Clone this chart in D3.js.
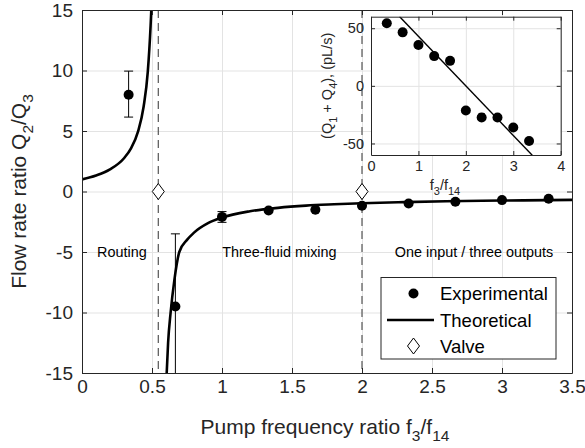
<!DOCTYPE html>
<html><head><meta charset="utf-8">
<script src="https://cdn.jsdelivr.net/npm/d3@7/dist/d3.min.js"></script>
<style>
html,body{margin:0;padding:0;background:#fff;}
svg{display:block;font-family:Arial,"Liberation Sans",Helvetica,sans-serif;}
</style></head>
<body><svg id="c" width="585" height="448"></svg>
<script>
// ---- Main chart data ----
const expX = [0.333, 0.667, 1.0, 1.333, 1.667, 2.0, 2.333, 2.667, 3.0, 3.333];
const expY = [8.0, -9.5, -2.1, -1.57, -1.51, -1.18, -0.99, -0.85, -0.71, -0.6];
const errLo = [6.15, -20, -2.55, -1.57, -1.51, -1.18, -0.99, -0.85, -0.71, -0.6];
const errHi = [9.95, -3.5, -1.66, -1.57, -1.51, -1.18, -0.99, -0.85, -0.71, -0.6];
// theoretical curve (two branches around the pole)
const theoryLeftX = [0, 0.1, 0.2, 0.3, 0.35, 0.4, 0.44, 0.47, 0.49, 0.497];
const theoryLeftY = [1.0, 1.32, 1.83, 2.75, 3.57, 4.95, 7.0, 9.9, 13.7, 15.5];
const theoryRightX = [0.603, 0.615, 0.633, 0.66, 0.695, 0.75, 0.8, 0.9, 1.0, 1.2, 1.4, 1.6, 1.8, 2.0, 2.3, 2.6, 3.0, 3.5];
const theoryRightY = [-15.5, -12.5, -10.0, -7.3, -5.0, -4.0, -3.4, -2.62, -2.15, -1.63, -1.35, -1.17, -1.06, -0.97, -0.88, -0.81, -0.75, -0.69];
const valveX = [0.545, 2.0];
const valveY = [0, 0];
const regionLabels = ["Routing", "Three-fluid mixing", "One input / three outputs"];
const regionX = [0.285, 1.41, 2.80];
const regionY = [-5.4, -5.4, -5.4];
const xTicks = [0, 0.5, 1, 1.5, 2, 2.5, 3, 3.5];
const yTicks = [-15, -10, -5, 0, 5, 10, 15];
const legendLabels = ["Experimental", "Theoretical", "Valve"];

// ---- Inset data ----
const insetX = [0.333, 0.667, 1.0, 1.333, 1.667, 2.0, 2.333, 2.667, 3.0, 3.333];
const insetY = [54.3, 46.4, 35.4, 25.8, 21.7, -21.4, -27.5, -27.5, -36.2, -47.8];
const insetErr = [0, 0, 0, 0, 0, 0, 3.5, 0, 0, 0];
const insetLineX = [0.6, 3.4];
const insetLineY = [60.2, -60.2];
const insetXTicks = [0, 1, 2, 3, 4];
const insetYTicks = [-50, 0, 50];

const svg = d3.select("#c");
const AX = "#262626", GRID = "#e3e3e3";
const fmt = d => String(d);

// text with subscripts; shift in px
function subText(sel, parts, subSize, shift) {
  let down = false;
  parts.forEach(p => {
    const t = sel.append("tspan").text(p.t);
    if (p.sub) {
      t.attr("font-size", subSize);
      if (!down) { t.attr("dy", shift); down = true; }
    } else if (down) {
      t.attr("dy", -shift); down = false;
    }
  });
}

// ---- Main axes ----
const L = 82, R = 572, T = 10, B = 373;
const x = d3.scaleLinear().domain([0, 3.5]).range([L, R]);
const y = d3.scaleLinear().domain([-15, 15]).range([B, T]);

const defs = svg.append("defs");
defs.append("clipPath").attr("id", "mainClip").append("rect")
  .attr("x", L).attr("y", T).attr("width", R - L).attr("height", B - T);

const g = svg.append("g");
// grid
g.append("g").attr("transform", `translate(0,${B})`)
  .call(d3.axisBottom(x).tickValues(xTicks).tickSize(-(B - T)).tickFormat(""))
  .call(s => { s.select(".domain").remove(); s.selectAll("line").attr("stroke", GRID); s.selectAll("text").remove(); });
g.append("g").attr("transform", `translate(${L},0)`)
  .call(d3.axisLeft(y).tickValues(yTicks).tickSize(-(R - L)).tickFormat(""))
  .call(s => { s.select(".domain").remove(); s.selectAll("line").attr("stroke", GRID); s.selectAll("text").remove(); });

const plot = g.append("g").attr("clip-path", "url(#mainClip)");
// dashed valve lines
plot.selectAll("line.valve").data(valveX).join("line")
  .attr("x1", d => x(d)).attr("x2", d => x(d)).attr("y1", T).attr("y2", B)
  .attr("stroke", "#555").attr("stroke-width", 1.2).attr("stroke-dasharray", "8,5");

// theoretical curve
const lineGen = d3.line().x(d => x(d[0])).y(d => y(d[1])).curve(d3.curveMonotoneX);
plot.append("path").datum(theoryLeftX.map((v, i) => [v, theoryLeftY[i]]))
  .attr("d", lineGen).attr("fill", "none").attr("stroke", "#000").attr("stroke-width", 2.6);
plot.append("path").datum(theoryRightX.map((v, i) => [v, theoryRightY[i]]))
  .attr("d", lineGen).attr("fill", "none").attr("stroke", "#000").attr("stroke-width", 2.6);

// error bars
const eb = plot.selectAll("g.eb").data(expX.map((v, i) => i)).join("g");
eb.append("line").attr("x1", i => x(expX[i])).attr("x2", i => x(expX[i]))
  .attr("y1", i => y(errLo[i])).attr("y2", i => y(errHi[i])).attr("stroke", "#000").attr("stroke-width", 1);
eb.append("line").attr("x1", i => x(expX[i]) - 4.5).attr("x2", i => x(expX[i]) + 4.5)
  .attr("y1", i => y(errLo[i])).attr("y2", i => y(errLo[i])).attr("stroke", "#000").attr("stroke-width", 1);
eb.append("line").attr("x1", i => x(expX[i]) - 4.5).attr("x2", i => x(expX[i]) + 4.5)
  .attr("y1", i => y(errHi[i])).attr("y2", i => y(errHi[i])).attr("stroke", "#000").attr("stroke-width", 1);
// points
plot.selectAll("circle.exp").data(expX).join("circle")
  .attr("cx", d => x(d)).attr("cy", (d, i) => y(expY[i])).attr("r", 5).attr("fill", "#000");

// valve diamonds
const diamond = "M0,-8L6,0L0,8L-6,0Z";
plot.selectAll("path.dia").data(valveX).join("path")
  .attr("d", diamond).attr("transform", (d, i) => `translate(${x(d)},${y(valveY[i])})`)
  .attr("fill", "#fff").attr("stroke", "#000").attr("stroke-width", 1);

// region labels
g.selectAll("text.region").data(regionLabels).join("text")
  .attr("x", (d, i) => x(regionX[i])).attr("y", (d, i) => y(regionY[i]))
  .attr("text-anchor", "middle").attr("font-size", 14.4).attr("fill", "#000").text(d => d);

// axes with inward ticks, box
function styleAxis(s) {
  s.select(".domain").attr("stroke", AX);
  s.selectAll(".tick line").attr("stroke", AX);
  s.selectAll(".tick text").attr("fill", AX).attr("font-family", null);
}
function noText(s) { s.selectAll(".tick text").remove(); }
g.append("g").attr("transform", `translate(0,${B})`)
  .call(d3.axisBottom(x).tickValues(xTicks).tickSizeInner(-5).tickSizeOuter(0).tickPadding(7).tickFormat(fmt))
  .call(styleAxis).call(s => s.selectAll("text").attr("font-size", 19));
g.append("g").attr("transform", `translate(0,${T})`)
  .call(d3.axisTop(x).tickValues(xTicks).tickSizeInner(-5).tickSizeOuter(0))
  .call(styleAxis).call(noText);
g.append("g").attr("transform", `translate(${L},0)`)
  .call(d3.axisLeft(y).tickValues(yTicks).tickSizeInner(-5).tickSizeOuter(0).tickPadding(9).tickFormat(fmt))
  .call(styleAxis).call(s => s.selectAll("text").attr("font-size", 19));
g.append("g").attr("transform", `translate(${R},0)`)
  .call(d3.axisRight(y).tickValues(yTicks).tickSizeInner(-5).tickSizeOuter(0))
  .call(styleAxis).call(noText);

// axis labels
const xl = svg.append("text").attr("x", 325).attr("y", 434).attr("text-anchor", "middle")
  .attr("font-size", 21).attr("fill", AX);
subText(xl, [{t: "Pump frequency ratio f"}, {t: "3", sub: true}, {t: "/f"}, {t: "14", sub: true}], 15.5, 7);
const yl = svg.append("text").attr("transform", `translate(26,${(T + B) / 2}) rotate(-90)`).attr("text-anchor", "middle")
  .attr("font-size", 21).attr("fill", AX);
subText(yl, [{t: "Flow rate ratio Q"}, {t: "2", sub: true}, {t: "/Q"}, {t: "3", sub: true}], 15.5, 7);

// ---- Inset ----
const iL = 371, iR = 560.7, iT = 16.7, iB = 155;
const ix = d3.scaleLinear().domain([0, 4]).range([iL, iR]);
const iy = d3.scaleLinear().domain([-60, 60]).range([iB, iT]);
defs.append("clipPath").attr("id", "insetClip").append("rect")
  .attr("x", iL).attr("y", iT).attr("width", iR - iL).attr("height", iB - iT);
const ig = svg.append("g");
ig.append("rect").attr("x", iL).attr("y", iT).attr("width", iR - iL).attr("height", iB - iT).attr("fill", "#fff");
ig.append("g").attr("transform", `translate(0,${iB})`)
  .call(d3.axisBottom(ix).tickValues(insetXTicks).tickSize(-(iB - iT)).tickFormat(""))
  .call(s => { s.select(".domain").remove(); s.selectAll("line").attr("stroke", GRID); s.selectAll("text").remove(); });
ig.append("g").attr("transform", `translate(${iL},0)`)
  .call(d3.axisLeft(iy).tickValues(insetYTicks).tickSize(-(iR - iL)).tickFormat(""))
  .call(s => { s.select(".domain").remove(); s.selectAll("line").attr("stroke", GRID); s.selectAll("text").remove(); });
const ip = ig.append("g").attr("clip-path", "url(#insetClip)");
ip.append("line").attr("x1", ix(insetLineX[0])).attr("y1", iy(insetLineY[0]))
  .attr("x2", ix(insetLineX[1])).attr("y2", iy(insetLineY[1])).attr("stroke", "#000").attr("stroke-width", 1.4);
const errIdx = insetX.map((v, i) => i).filter(i => insetErr[i] > 0);
ip.selectAll("line.ie").data(errIdx).join("line")
  .attr("x1", i => ix(insetX[i])).attr("x2", i => ix(insetX[i]))
  .attr("y1", i => iy(insetY[i] + insetErr[i])).attr("y2", i => iy(insetY[i] - insetErr[i])).attr("stroke", "#000");
ip.selectAll("line.iec").data(errIdx).join("line")
  .attr("x1", i => ix(insetX[i]) - 3).attr("x2", i => ix(insetX[i]) + 3)
  .attr("y1", i => iy(insetY[i] + insetErr[i])).attr("y2", i => iy(insetY[i] + insetErr[i])).attr("stroke", "#000");
ip.selectAll("circle").data(insetX).join("circle")
  .attr("cx", d => ix(d)).attr("cy", (d, i) => iy(insetY[i])).attr("r", 5).attr("fill", "#000");

ig.append("g").attr("transform", `translate(0,${iB})`)
  .call(d3.axisBottom(ix).tickValues(insetXTicks).tickSizeInner(-4).tickSizeOuter(0).tickPadding(6).tickFormat(fmt))
  .call(styleAxis).call(s => s.selectAll("text").attr("font-size", 14.5));
ig.append("g").attr("transform", `translate(0,${iT})`)
  .call(d3.axisTop(ix).tickValues(insetXTicks).tickSizeInner(-4).tickSizeOuter(0))
  .call(styleAxis).call(noText);
ig.append("g").attr("transform", `translate(${iL},0)`)
  .call(d3.axisLeft(iy).tickValues(insetYTicks).tickSizeInner(-4).tickSizeOuter(0).tickPadding(7).tickFormat(fmt))
  .call(styleAxis).call(s => s.selectAll("text").attr("font-size", 14.5));
ig.append("g").attr("transform", `translate(${iR},0)`)
  .call(d3.axisRight(iy).tickValues(insetYTicks).tickSizeInner(-4).tickSizeOuter(0))
  .call(styleAxis).call(noText);
const ixl = ig.append("text").attr("x", 445).attr("y", 190).attr("text-anchor", "middle")
  .attr("font-size", 14.5).attr("fill", AX);
subText(ixl, [{t: "f"}, {t: "3", sub: true}, {t: "/f"}, {t: "14", sub: true}], 11, 5);
const iyl = ig.append("text").attr("transform", `translate(332,${(iT + iB) / 2}) rotate(-90)`).attr("text-anchor", "middle")
  .attr("font-size", 14.5).attr("fill", AX);
subText(iyl, [{t: "(Q"}, {t: "1", sub: true}, {t: " + Q"}, {t: "4", sub: true}, {t: "), (pL/s)"}], 11, 5);

// ---- Legend ----
const lg = svg.append("g");
lg.append("rect").attr("x", 381).attr("y", 277.5).attr("width", 175).attr("height", 81.5)
  .attr("fill", "#fff").attr("stroke", AX).attr("stroke-width", 1);
const ly = [293.5, 320, 346];
lg.append("circle").attr("cx", 413.5).attr("cy", ly[0]).attr("r", 5).attr("fill", "#000");
lg.append("line").attr("x1", 387).attr("x2", 434).attr("y1", ly[1]).attr("y2", ly[1]).attr("stroke", "#000").attr("stroke-width", 2.6);
lg.append("path").attr("d", diamond).attr("transform", `translate(413.5,${ly[2]})`)
  .attr("fill", "#fff").attr("stroke", "#000");
lg.selectAll("text").data(legendLabels).join("text")
  .attr("x", 440).attr("y", (d, i) => ly[i] + 6.5).attr("font-size", 18.5).attr("fill", "#000").text(d => d);
</script></body></html>
